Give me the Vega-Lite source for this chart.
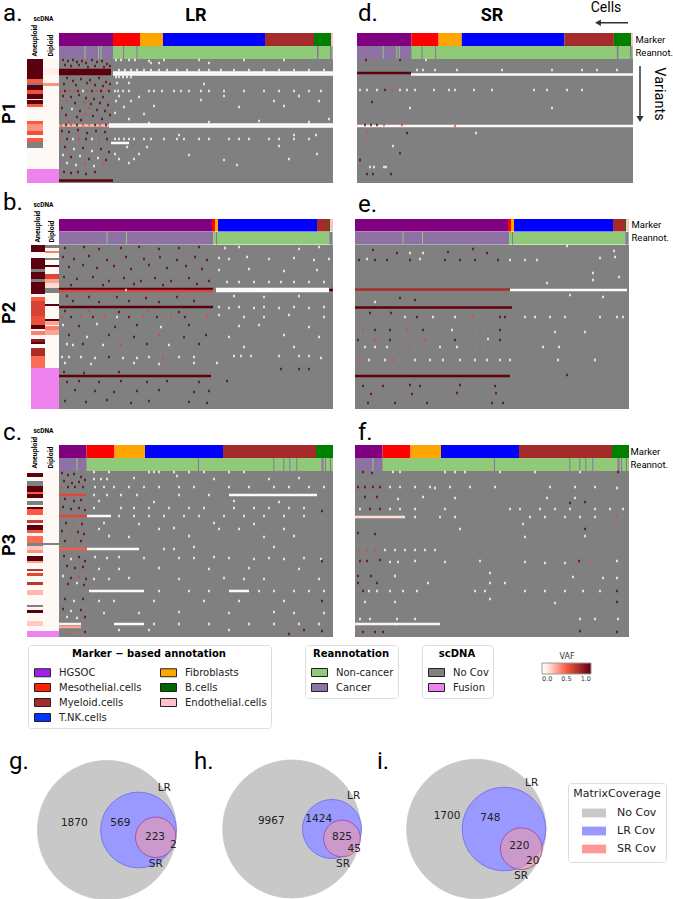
{"$schema":"https://vega.github.io/schema/vega-lite/v6.json","padding":0,"background":"white","config":{"view":{"stroke":null},"font":"Roboto"},
"datasets":{
"ma":[{"s":0,"e":54,"a":"HGSOC","r":"Marker"},{"s":54,"e":81,"a":"Mesothelial.cells","r":"Marker"},{"s":81,"e":104,"a":"Fibroblasts","r":"Marker"},{"s":104,"e":206,"a":"T.NK.cells","r":"Marker"},{"s":206,"e":255,"a":"Myeloid.cells","r":"Marker"},{"s":255,"e":272,"a":"B.cells","r":"Marker"},{"s":272,"e":274,"a":"Endothelial.cells","r":"Marker"}],
"mb":[{"s":0,"e":153,"a":"HGSOC","r":"Marker"},{"s":153,"e":156,"a":"Mesothelial.cells","r":"Marker"},{"s":156,"e":159,"a":"Fibroblasts","r":"Marker"},{"s":159,"e":258,"a":"T.NK.cells","r":"Marker"},{"s":258,"e":270,"a":"Myeloid.cells","r":"Marker"},{"s":270,"e":271,"a":"B.cells","r":"Marker"},{"s":271,"e":274,"a":"Endothelial.cells","r":"Marker"}],
"mc":[{"s":0,"e":27.5,"a":"HGSOC","r":"Marker"},{"s":27.5,"e":55.5,"a":"Mesothelial.cells","r":"Marker"},{"s":55.5,"e":86,"a":"Fibroblasts","r":"Marker"},{"s":86,"e":164,"a":"T.NK.cells","r":"Marker"},{"s":164,"e":257,"a":"Myeloid.cells","r":"Marker"},{"s":257,"e":274,"a":"B.cells","r":"Marker"}],
"ra":[{"s":0,"e":274,"a":"Non-cancer","r":"Reannot."},{"s":0,"e":54,"a":"Cancer","r":"Reannot."},{"s":25.5,"e":26.5,"a":"Non-cancer","r":"Reannot."},{"s":39,"e":40,"a":"Non-cancer","r":"Reannot."},{"s":41.5,"e":42.5,"a":"Non-cancer","r":"Reannot."},{"s":64,"e":65,"a":"Cancer","r":"Reannot."},{"s":77.5,"e":78.5,"a":"Cancer","r":"Reannot."},{"s":258,"e":259.5,"a":"Cancer","r":"Reannot."},{"s":271,"e":272.5,"a":"Cancer","r":"Reannot."}],
"rb":[{"s":0,"e":274,"a":"Non-cancer","r":"Reannot."},{"s":0,"e":154,"a":"Cancer","r":"Reannot."},{"s":47.5,"e":48.5,"a":"Non-cancer","r":"Reannot."},{"s":67,"e":68,"a":"Non-cancer","r":"Reannot."},{"s":157,"e":158,"a":"Cancer","r":"Reannot."},{"s":270.5,"e":273,"a":"Cancer","r":"Reannot."}],
"rc":[{"s":0,"e":274,"a":"Non-cancer","r":"Reannot."},{"s":0,"e":27.5,"a":"Cancer","r":"Reannot."},{"s":17.5,"e":18.5,"a":"Non-cancer","r":"Reannot."},{"s":139,"e":140,"a":"Cancer","r":"Reannot."},{"s":214.3,"e":215.3,"a":"Cancer","r":"Reannot."},{"s":224.3,"e":225.3,"a":"Cancer","r":"Reannot."},{"s":230.3,"e":231.3,"a":"Cancer","r":"Reannot."},{"s":237.3,"e":238.3,"a":"Cancer","r":"Reannot."},{"s":262.5,"e":264.5,"a":"Cancer","r":"Reannot."},{"s":266,"e":267,"a":"Cancer","r":"Reannot."},{"s":271,"e":272,"a":"Cancer","r":"Reannot."}],
"sa":[{"k":"Aneuploid","s":0,"e":20,"f":1},{"k":"Aneuploid","s":20,"e":24,"f":0.5},{"k":"Aneuploid","s":26,"e":31,"f":1},{"k":"Aneuploid","s":31,"e":35,"f":0.55},{"k":"Aneuploid","s":35,"e":40,"f":1},{"k":"Aneuploid","s":40,"e":41,"f":0.1},{"k":"Aneuploid","s":41,"e":45,"f":1},{"k":"Aneuploid","s":45,"e":48,"f":0.5},{"k":"Aneuploid","s":48,"e":62,"f":0.04},{"k":"Aneuploid","s":62,"e":65,"f":0.5},{"k":"Aneuploid","s":65,"e":72,"f":0.35},{"k":"Aneuploid","s":72,"e":76,"f":0.55},{"k":"Aneuploid","s":76,"e":79,"f":0.05},{"k":"Aneuploid","s":79,"e":83,"f":0.5},{"k":"Aneuploid","s":89,"e":110,"f":0.04},{"k":"Diploid","s":0,"e":9,"f":0.04},{"k":"Diploid","s":9,"e":16,"f":0.1},{"k":"Diploid","s":16,"e":24,"f":0.04},{"k":"Diploid","s":24,"e":27,"f":0.35},{"k":"Diploid","s":27,"e":110,"f":0.04}],
"na":[{"k":"Aneuploid","s":24,"e":26,"n":"No Cov"},{"k":"Aneuploid","s":83,"e":89,"n":"No Cov"},{"k":"Aneuploid","s":110,"e":124,"n":"Fusion"},{"k":"Diploid","s":110,"e":124,"n":"Fusion"}],
"sb":[{"k":"Aneuploid","s":0,"e":7,"f":1},{"k":"Aneuploid","s":7,"e":13,"f":0.04},{"k":"Aneuploid","s":13,"e":24,"f":1},{"k":"Aneuploid","s":27,"e":34,"f":1},{"k":"Aneuploid","s":37,"e":49,"f":1},{"k":"Aneuploid","s":49,"e":52,"f":0.04},{"k":"Aneuploid","s":52,"e":56,"f":0.5},{"k":"Aneuploid","s":56,"e":71,"f":0.62},{"k":"Aneuploid","s":71,"e":80,"f":0.55},{"k":"Aneuploid","s":80,"e":84,"f":1},{"k":"Aneuploid","s":84,"e":86,"f":0.04},{"k":"Aneuploid","s":86,"e":90,"f":0.4},{"k":"Aneuploid","s":90,"e":94,"f":0.04},{"k":"Aneuploid","s":94,"e":97,"f":0.85},{"k":"Aneuploid","s":97,"e":99,"f":1},{"k":"Aneuploid","s":99,"e":103,"f":0.04},{"k":"Aneuploid","s":103,"e":111,"f":0.75},{"k":"Aneuploid","s":111,"e":123,"f":0.45},{"k":"Diploid","s":3,"e":6,"f":0.04},{"k":"Diploid","s":6,"e":8,"f":0.4},{"k":"Diploid","s":8,"e":13,"f":0.04},{"k":"Diploid","s":15,"e":20,"f":0.04},{"k":"Diploid","s":20,"e":22,"f":1},{"k":"Diploid","s":22,"e":29,"f":0.04},{"k":"Diploid","s":29,"e":34,"f":0.6},{"k":"Diploid","s":34,"e":38,"f":0.3},{"k":"Diploid","s":38,"e":43,"f":0.15},{"k":"Diploid","s":48,"e":59,"f":0.04},{"k":"Diploid","s":59,"e":61,"f":1},{"k":"Diploid","s":61,"e":74,"f":0.04},{"k":"Diploid","s":74,"e":76,"f":1},{"k":"Diploid","s":76,"e":80,"f":0.3},{"k":"Diploid","s":80,"e":81,"f":0.04},{"k":"Diploid","s":81,"e":85,"f":0.4},{"k":"Diploid","s":85,"e":90,"f":0.3},{"k":"Diploid","s":90,"e":123,"f":0.04}],
"nb":[{"k":"Aneuploid","s":24,"e":27,"n":"No Cov"},{"k":"Aneuploid","s":34,"e":37,"n":"No Cov"},{"k":"Diploid","s":0,"e":3,"n":"No Cov"},{"k":"Diploid","s":13,"e":15,"n":"No Cov"},{"k":"Diploid","s":43,"e":48,"n":"No Cov"},{"k":"Aneuploid","s":123,"e":164,"n":"Fusion"},{"k":"Diploid","s":123,"e":164,"n":"Fusion"}],
"sc":[{"k":"Diploid","s":0,"e":160,"f":0.04},{"k":"Aneuploid","s":0,"e":160,"f":0.04},{"k":"Aneuploid","s":2,"e":6,"f":1},{"k":"Aneuploid","s":15,"e":21,"f":1},{"k":"Aneuploid","s":21,"e":23,"f":0.5},{"k":"Aneuploid","s":23,"e":27,"f":1},{"k":"Aneuploid","s":36,"e":38,"f":1},{"k":"Aneuploid","s":38,"e":44,"f":0.5},{"k":"Aneuploid","s":49,"e":52,"f":0.65},{"k":"Aneuploid","s":54,"e":59,"f":1},{"k":"Aneuploid","s":59,"e":62,"f":0.5},{"k":"Aneuploid","s":65,"e":72,"f":0.45},{"k":"Aneuploid","s":75,"e":79,"f":0.2},{"k":"Aneuploid","s":79,"e":82,"f":0.35},{"k":"Aneuploid","s":85,"e":90,"f":1},{"k":"Aneuploid","s":90,"e":92,"f":0.3},{"k":"Aneuploid","s":98,"e":100,"f":0.7},{"k":"Aneuploid","s":102,"e":105,"f":0.6},{"k":"Aneuploid","s":111,"e":114,"f":0.7},{"k":"Aneuploid","s":119,"e":124,"f":0.25},{"k":"Aneuploid","s":139,"e":142,"f":1},{"k":"Aneuploid","s":150,"e":155,"f":0.2}],
"nc":[{"k":"Aneuploid","s":10,"e":15,"n":"No Cov"},{"k":"Aneuploid","s":30,"e":34,"n":"No Cov"},{"k":"Aneuploid","s":72,"e":75,"n":"No Cov"},{"k":"Diploid","s":72,"e":74,"n":"No Cov"},{"k":"Aneuploid","s":134,"e":136,"n":"No Cov"},{"k":"Aneuploid","s":160,"e":166,"n":"Fusion"},{"k":"Diploid","s":160,"e":166,"n":"Fusion"}],
"ar":[{"s":0,"e":52,"v":11,"f":1},{"s":0,"e":52,"v":13,"f":1},{"s":0,"e":52,"v":15,"f":1},{"s":54,"e":274,"v":13.5,"f":0.02},{"s":54,"e":274,"v":15.5,"f":0.03},{"s":50,"e":274,"v":65.5,"f":0.03},{"s":50,"e":274,"v":67.5,"f":0.03},{"s":0,"e":50,"v":66.5,"f":0.25},{"s":52,"e":70,"v":84,"f":0.03},{"s":0,"e":54,"v":121.5,"f":1}],
"at":[{"c":4,"v":1,"f":1},{"c":9,"v":2,"f":1},{"c":14,"v":1,"f":1},{"c":18,"v":3,"f":1},{"c":23,"v":2,"f":1},{"c":27,"v":4,"f":1},{"c":33,"v":1,"f":1},{"c":38,"v":3,"f":1},{"c":43,"v":2,"f":1},{"c":48,"v":5,"f":1},{"c":6,"v":6,"f":1},{"c":12,"v":7,"f":1},{"c":20,"v":6,"f":1},{"c":29,"v":8,"f":1},{"c":36,"v":7,"f":1},{"c":45,"v":8,"f":1},{"c":51,"v":7,"f":1},{"c":8,"v":19,"f":1},{"c":14,"v":22,"f":1},{"c":22,"v":20,"f":1},{"c":31,"v":21,"f":1},{"c":40,"v":19,"f":1},{"c":47,"v":23,"f":1},{"c":5,"v":25,"f":1},{"c":17,"v":26,"f":1},{"c":28,"v":24,"f":1},{"c":36,"v":26,"f":1},{"c":44,"v":27,"f":1},{"c":51,"v":25,"f":1},{"c":2,"v":32,"f":0.6},{"c":6,"v":32,"f":1},{"c":10,"v":32,"f":0.6},{"c":15,"v":32,"f":0.6},{"c":19,"v":32,"f":1},{"c":24,"v":32,"f":0},{"c":28,"v":32,"f":0.6},{"c":33,"v":32,"f":1},{"c":37,"v":32,"f":0.6},{"c":42,"v":32,"f":1},{"c":46,"v":32,"f":0.5},{"c":50,"v":32,"f":1},{"c":4,"v":37,"f":1},{"c":12,"v":38,"f":1},{"c":20,"v":36,"f":1},{"c":27,"v":39,"f":1},{"c":35,"v":40,"f":1},{"c":44,"v":38,"f":1},{"c":8,"v":42,"f":0.6},{"c":16,"v":44,"f":1},{"c":25,"v":43,"f":0.6},{"c":32,"v":45,"f":1},{"c":41,"v":44,"f":1},{"c":49,"v":46,"f":1},{"c":3,"v":49,"f":1},{"c":13,"v":50,"f":0},{"c":21,"v":52,"f":1},{"c":30,"v":49,"f":0.6},{"c":38,"v":51,"f":1},{"c":46,"v":52,"f":1},{"c":7,"v":56,"f":1},{"c":18,"v":58,"f":1},{"c":26,"v":55,"f":0.6},{"c":34,"v":57,"f":1},{"c":43,"v":60,"f":1},{"c":51,"v":56,"f":1},{"c":10,"v":62,"f":0.6},{"c":22,"v":61,"f":1},{"c":2,"v":66,"f":0.6},{"c":7,"v":66,"f":1},{"c":12,"v":66,"f":0.6},{"c":18,"v":66,"f":1},{"c":24,"v":66,"f":0.6},{"c":30,"v":66,"f":0.5},{"c":36,"v":66,"f":1},{"c":41,"v":66,"f":0.6},{"c":47,"v":66,"f":1},{"c":3,"v":72,"f":1},{"c":10,"v":73,"f":1},{"c":19,"v":71,"f":1},{"c":28,"v":74,"f":1},{"c":37,"v":72,"f":1},{"c":46,"v":73,"f":1},{"c":2,"v":80,"f":0.6},{"c":8,"v":80,"f":1},{"c":14,"v":80,"f":0},{"c":20,"v":80,"f":0.6},{"c":27,"v":80,"f":1},{"c":33,"v":80,"f":0},{"c":40,"v":80,"f":0.6},{"c":48,"v":80,"f":1},{"c":6,"v":88,"f":1},{"c":15,"v":90,"f":0},{"c":24,"v":89,"f":1},{"c":33,"v":92,"f":0},{"c":42,"v":90,"f":1},{"c":50,"v":93,"f":1},{"c":4,"v":96,"f":0},{"c":12,"v":98,"f":1},{"c":21,"v":97,"f":0},{"c":30,"v":100,"f":1},{"c":39,"v":99,"f":0},{"c":47,"v":101,"f":1},{"c":8,"v":104,"f":0},{"c":17,"v":106,"f":0},{"c":26,"v":105,"f":0.6},{"c":35,"v":107,"f":0},{"c":44,"v":106,"f":0.6},{"c":5,"v":113,"f":1},{"c":12,"v":114,"f":1},{"c":19,"v":113,"f":1},{"c":27,"v":115,"f":1},{"c":36,"v":113,"f":1},{"c":57,"v":1,"f":0},{"c":62,"v":1,"f":0},{"c":70,"v":1,"f":0},{"c":76,"v":1,"f":0},{"c":90,"v":2,"f":0},{"c":105,"v":1,"f":0},{"c":140,"v":1,"f":0},{"c":185,"v":1,"f":0},{"c":225,"v":1,"f":0},{"c":92,"v":4,"f":0},{"c":100,"v":4,"f":0},{"c":150,"v":4,"f":0},{"c":60,"v":11,"f":0},{"c":66,"v":11,"f":0},{"c":72,"v":11,"f":0},{"c":78,"v":11,"f":0},{"c":85,"v":11,"f":0},{"c":92,"v":11,"f":0},{"c":100,"v":11,"f":0},{"c":108,"v":11,"f":0},{"c":118,"v":11,"f":0},{"c":128,"v":11,"f":0},{"c":140,"v":11,"f":0},{"c":150,"v":11,"f":0},{"c":162,"v":11,"f":0},{"c":175,"v":11,"f":0},{"c":190,"v":11,"f":0},{"c":205,"v":11,"f":0},{"c":220,"v":11,"f":0},{"c":235,"v":11,"f":0},{"c":250,"v":11,"f":0},{"c":265,"v":11,"f":0},{"c":57,"v":18,"f":0},{"c":60,"v":18,"f":0},{"c":64,"v":18,"f":0},{"c":68,"v":18,"f":0},{"c":72,"v":18,"f":0},{"c":58,"v":24,"f":0},{"c":70,"v":24,"f":0},{"c":145,"v":25,"f":0},{"c":56,"v":32,"f":0},{"c":59,"v":32,"f":0},{"c":64,"v":32,"f":0},{"c":70,"v":32,"f":0},{"c":90,"v":32,"f":0},{"c":95,"v":32,"f":0},{"c":103,"v":32,"f":0},{"c":115,"v":32,"f":0},{"c":122,"v":32,"f":0},{"c":130,"v":32,"f":0},{"c":142,"v":32,"f":0},{"c":150,"v":32,"f":0},{"c":165,"v":32,"f":0},{"c":185,"v":32,"f":0},{"c":205,"v":32,"f":0},{"c":220,"v":32,"f":0},{"c":235,"v":32,"f":0},{"c":250,"v":32,"f":0},{"c":262,"v":32,"f":0},{"c":60,"v":37,"f":0},{"c":80,"v":38,"f":0},{"c":165,"v":37,"f":0},{"c":240,"v":37,"f":0},{"c":57,"v":42,"f":0},{"c":72,"v":42,"f":0},{"c":142,"v":41,"f":0},{"c":215,"v":42,"f":0},{"c":260,"v":42,"f":0},{"c":65,"v":48,"f":0},{"c":95,"v":47,"f":0},{"c":180,"v":48,"f":0},{"c":225,"v":47,"f":0},{"c":56,"v":54,"f":0},{"c":85,"v":55,"f":0},{"c":70,"v":60,"f":0},{"c":200,"v":62,"f":0},{"c":270,"v":60,"f":0},{"c":90,"v":64,"f":0},{"c":150,"v":63,"f":0},{"c":250,"v":63,"f":0},{"c":120,"v":76,"f":0},{"c":235,"v":76,"f":0},{"c":257,"v":76,"f":0},{"c":56,"v":80,"f":0},{"c":60,"v":80,"f":0},{"c":65,"v":80,"f":0},{"c":70,"v":80,"f":0},{"c":75,"v":80,"f":0},{"c":85,"v":80,"f":0},{"c":92,"v":80,"f":0},{"c":105,"v":80,"f":0},{"c":118,"v":80,"f":0},{"c":125,"v":80,"f":0},{"c":140,"v":80,"f":0},{"c":150,"v":80,"f":0},{"c":170,"v":80,"f":0},{"c":180,"v":80,"f":0},{"c":190,"v":80,"f":0},{"c":210,"v":80,"f":0},{"c":220,"v":80,"f":0},{"c":235,"v":80,"f":0},{"c":250,"v":80,"f":0},{"c":68,"v":88,"f":0},{"c":88,"v":88,"f":0},{"c":220,"v":87,"f":0},{"c":56,"v":95,"f":0},{"c":80,"v":95,"f":0},{"c":130,"v":96,"f":0},{"c":258,"v":95,"f":0},{"c":60,"v":100,"f":0},{"c":75,"v":100,"f":0},{"c":165,"v":101,"f":0},{"c":230,"v":100,"f":0},{"c":70,"v":104,"f":0},{"c":178,"v":106,"f":0}],
"dr":[{"s":0,"e":54,"v":14,"f":1},{"s":54,"e":276,"v":15.5,"f":0.03},{"s":0,"e":276,"v":67,"f":0.05}],
"dt":[{"c":9,"v":1,"f":1},{"c":43,"v":1,"f":1},{"c":69,"v":1,"f":0.03},{"c":60,"v":11,"f":0},{"c":66,"v":11,"f":0},{"c":78,"v":11,"f":0},{"c":100,"v":11,"f":0},{"c":145,"v":11,"f":0},{"c":195,"v":11,"f":0},{"c":225,"v":11,"f":0},{"c":240,"v":11,"f":0},{"c":260,"v":11,"f":0},{"c":3,"v":31,"f":0},{"c":10,"v":31,"f":0},{"c":20,"v":31,"f":0},{"c":28,"v":31,"f":1},{"c":35,"v":31,"f":0.6},{"c":43,"v":31,"f":0},{"c":50,"v":31,"f":0},{"c":58,"v":31,"f":0},{"c":77,"v":31,"f":0},{"c":92,"v":31,"f":0},{"c":98,"v":31,"f":0},{"c":117,"v":31,"f":0},{"c":135,"v":31,"f":0},{"c":177,"v":31,"f":0},{"c":190,"v":31,"f":0},{"c":210,"v":31,"f":0},{"c":225,"v":31,"f":0},{"c":15,"v":43,"f":1},{"c":53,"v":49,"f":0},{"c":195,"v":49,"f":0},{"c":8,"v":66,"f":1},{"c":14,"v":66,"f":1},{"c":20,"v":66,"f":1},{"c":27,"v":66,"f":0.6},{"c":45,"v":66,"f":0.6},{"c":98,"v":67,"f":0.6},{"c":10,"v":74,"f":0.6},{"c":50,"v":74,"f":1},{"c":119,"v":74,"f":0},{"c":36,"v":87,"f":0},{"c":43,"v":94,"f":1},{"c":3,"v":101,"f":1},{"c":13,"v":108,"f":0},{"c":17,"v":108,"f":0},{"c":27,"v":108,"f":0},{"c":29,"v":108,"f":0},{"c":10,"v":115,"f":1},{"c":16,"v":115,"f":1},{"c":34,"v":115,"f":1}],
"br":[{"s":0,"e":154,"v":44,"f":1},{"s":0,"e":154,"v":46,"f":0.6},{"s":157,"e":270,"v":44,"f":0.02},{"s":157,"e":270,"v":46,"f":0.02},{"s":270,"e":274,"v":45,"f":1},{"s":0,"e":154,"v":62,"f":1},{"s":0,"e":152,"v":131,"f":1}],
"bt":[{"c":6,"v":3,"f":1},{"c":25,"v":2,"f":1},{"c":40,"v":4,"f":1},{"c":62,"v":3,"f":1},{"c":80,"v":2,"f":1},{"c":100,"v":4,"f":1},{"c":120,"v":3,"f":1},{"c":140,"v":2,"f":1},{"c":4,"v":12,"f":1},{"c":15,"v":14,"f":1},{"c":30,"v":11,"f":1},{"c":48,"v":15,"f":1},{"c":67,"v":12,"f":1},{"c":85,"v":14,"f":1},{"c":101,"v":12,"f":1},{"c":118,"v":15,"f":1},{"c":136,"v":12,"f":1},{"c":148,"v":15,"f":1},{"c":10,"v":22,"f":1},{"c":24,"v":20,"f":1},{"c":38,"v":23,"f":1},{"c":55,"v":21,"f":1},{"c":72,"v":24,"f":1},{"c":90,"v":20,"f":1},{"c":108,"v":23,"f":1},{"c":127,"v":21,"f":1},{"c":143,"v":24,"f":1},{"c":5,"v":32,"f":1},{"c":18,"v":34,"f":1},{"c":34,"v":32,"f":1},{"c":50,"v":36,"f":1},{"c":65,"v":33,"f":1},{"c":82,"v":36,"f":1},{"c":96,"v":33,"f":1},{"c":112,"v":36,"f":1},{"c":130,"v":33,"f":1},{"c":150,"v":36,"f":1},{"c":12,"v":40,"f":1},{"c":44,"v":40,"f":1},{"c":75,"v":39,"f":1},{"c":104,"v":40,"f":1},{"c":138,"v":39,"f":1},{"c":67,"v":45,"f":0.02},{"c":8,"v":51,"f":1},{"c":30,"v":52,"f":1},{"c":58,"v":52,"f":1},{"c":87,"v":53,"f":1},{"c":118,"v":52,"f":1},{"c":14,"v":56,"f":1},{"c":40,"v":57,"f":1},{"c":70,"v":56,"f":1},{"c":100,"v":57,"f":1},{"c":135,"v":56,"f":1},{"c":3,"v":72,"f":0.6},{"c":12,"v":72,"f":1},{"c":22,"v":72,"f":0.6},{"c":34,"v":72,"f":1},{"c":46,"v":72,"f":0.6},{"c":58,"v":72,"f":0},{"c":70,"v":72,"f":1},{"c":84,"v":72,"f":0.6},{"c":98,"v":72,"f":1},{"c":112,"v":72,"f":0.6},{"c":126,"v":72,"f":1},{"c":148,"v":72,"f":0.6},{"c":6,"v":66,"f":1},{"c":30,"v":66,"f":0.6},{"c":60,"v":67,"f":1},{"c":90,"v":66,"f":0.6},{"c":120,"v":67,"f":1},{"c":4,"v":80,"f":0},{"c":20,"v":81,"f":1},{"c":38,"v":79,"f":0},{"c":56,"v":82,"f":1},{"c":78,"v":80,"f":1},{"c":102,"v":82,"f":0},{"c":130,"v":80,"f":1},{"c":10,"v":90,"f":1},{"c":28,"v":92,"f":0},{"c":50,"v":90,"f":1},{"c":75,"v":92,"f":1},{"c":100,"v":90,"f":0.6},{"c":125,"v":92,"f":1},{"c":147,"v":90,"f":1},{"c":8,"v":99,"f":0},{"c":14,"v":100,"f":0},{"c":24,"v":99,"f":1},{"c":44,"v":100,"f":0},{"c":62,"v":100,"f":0.6},{"c":88,"v":99,"f":1},{"c":110,"v":100,"f":0},{"c":140,"v":99,"f":1},{"c":3,"v":112,"f":0},{"c":10,"v":112,"f":0},{"c":22,"v":112,"f":0},{"c":36,"v":113,"f":0},{"c":50,"v":112,"f":1},{"c":64,"v":113,"f":0},{"c":78,"v":113,"f":0},{"c":90,"v":112,"f":0},{"c":104,"v":113,"f":0.6},{"c":120,"v":112,"f":0},{"c":135,"v":112,"f":0},{"c":6,"v":118,"f":0},{"c":32,"v":119,"f":0},{"c":75,"v":118,"f":0},{"c":100,"v":119,"f":0},{"c":135,"v":118,"f":0},{"c":5,"v":127,"f":1},{"c":25,"v":128,"f":1},{"c":60,"v":127,"f":1},{"c":8,"v":137,"f":1},{"c":20,"v":136,"f":1},{"c":40,"v":137,"f":1},{"c":62,"v":136,"f":1},{"c":88,"v":137,"f":1},{"c":108,"v":136,"f":1},{"c":140,"v":137,"f":1},{"c":16,"v":145,"f":1},{"c":36,"v":146,"f":1},{"c":55,"v":147,"f":1},{"c":78,"v":146,"f":1},{"c":100,"v":145,"f":1},{"c":135,"v":147,"f":1},{"c":150,"v":146,"f":1},{"c":6,"v":156,"f":1},{"c":27,"v":157,"f":1},{"c":48,"v":155,"f":1},{"c":72,"v":158,"f":1},{"c":90,"v":156,"f":1},{"c":130,"v":157,"f":1},{"c":148,"v":158,"f":1},{"c":166,"v":3,"f":0},{"c":180,"v":2,"f":0},{"c":240,"v":4,"f":0},{"c":260,"v":2,"f":0},{"c":160,"v":13,"f":0},{"c":170,"v":14,"f":0},{"c":188,"v":12,"f":0},{"c":210,"v":14,"f":0},{"c":235,"v":13,"f":0},{"c":255,"v":15,"f":0},{"c":270,"v":14,"f":0},{"c":160,"v":25,"f":0},{"c":190,"v":24,"f":0},{"c":225,"v":26,"f":0},{"c":258,"v":25,"f":0},{"c":168,"v":37,"f":0},{"c":180,"v":37,"f":0},{"c":195,"v":37,"f":0},{"c":210,"v":37,"f":0},{"c":222,"v":37,"f":0},{"c":235,"v":37,"f":0},{"c":250,"v":37,"f":0},{"c":265,"v":37,"f":0},{"c":175,"v":51,"f":0},{"c":205,"v":52,"f":0},{"c":240,"v":51,"f":0},{"c":160,"v":62,"f":0},{"c":170,"v":63,"f":0},{"c":180,"v":62,"f":0},{"c":195,"v":63,"f":0},{"c":205,"v":62,"f":0},{"c":220,"v":63,"f":0},{"c":235,"v":62,"f":0},{"c":250,"v":63,"f":0},{"c":265,"v":62,"f":0},{"c":160,"v":70,"f":0},{"c":185,"v":72,"f":0},{"c":205,"v":72,"f":0},{"c":230,"v":70,"f":0},{"c":265,"v":72,"f":0},{"c":180,"v":81,"f":0},{"c":200,"v":80,"f":0},{"c":250,"v":82,"f":0},{"c":170,"v":92,"f":0},{"c":225,"v":90,"f":0},{"c":260,"v":92,"f":0},{"c":185,"v":102,"f":0},{"c":235,"v":102,"f":0},{"c":175,"v":111,"f":0},{"c":182,"v":111,"f":0},{"c":192,"v":111,"f":0},{"c":220,"v":111,"f":0},{"c":240,"v":111,"f":0},{"c":250,"v":111,"f":0},{"c":262,"v":113,"f":0},{"c":158,"v":118,"f":0},{"c":222,"v":124,"f":1},{"c":240,"v":124,"f":1},{"c":250,"v":124,"f":1},{"c":168,"v":136,"f":1}],
"er":[{"s":0,"e":155,"v":44.5,"f":0.75},{"s":155,"e":272,"v":45,"f":0.02},{"s":0,"e":157,"v":62.5,"f":1},{"s":0,"e":155,"v":131,"f":1}],
"et":[{"c":18,"v":5,"f":1},{"c":42,"v":8,"f":1},{"c":55,"v":8,"f":0},{"c":68,"v":8,"f":0},{"c":93,"v":7,"f":1},{"c":118,"v":4,"f":1},{"c":132,"v":8,"f":1},{"c":4,"v":15,"f":1},{"c":12,"v":14,"f":0},{"c":20,"v":15,"f":1},{"c":32,"v":15,"f":1},{"c":55,"v":15,"f":1},{"c":65,"v":14,"f":0},{"c":90,"v":15,"f":1},{"c":105,"v":15,"f":1},{"c":120,"v":15,"f":1},{"c":143,"v":15,"f":1},{"c":155,"v":15,"f":0},{"c":170,"v":15,"f":0},{"c":182,"v":15,"f":0},{"c":245,"v":13,"f":0},{"c":260,"v":12,"f":0},{"c":212,"v":1,"f":0},{"c":259,"v":6,"f":0},{"c":238,"v":28,"f":0},{"c":238,"v":35,"f":0},{"c":192,"v":38,"f":0},{"c":264,"v":32,"f":0},{"c":45,"v":53,"f":1},{"c":60,"v":55,"f":1},{"c":20,"v":57,"f":0},{"c":215,"v":50,"f":0},{"c":248,"v":52,"f":0},{"c":15,"v":68,"f":1},{"c":36,"v":68,"f":1},{"c":50,"v":72,"f":0},{"c":62,"v":72,"f":1},{"c":78,"v":72,"f":0},{"c":100,"v":72,"f":0},{"c":118,"v":72,"f":0.6},{"c":145,"v":72,"f":1},{"c":150,"v":72,"f":1},{"c":170,"v":72,"f":0},{"c":180,"v":72,"f":0},{"c":195,"v":72,"f":0},{"c":210,"v":72,"f":0},{"c":245,"v":72,"f":0},{"c":262,"v":72,"f":0},{"c":268,"v":72,"f":0},{"c":8,"v":85,"f":0.6},{"c":20,"v":85,"f":1},{"c":35,"v":85,"f":1},{"c":52,"v":85,"f":0.6},{"c":68,"v":85,"f":1},{"c":97,"v":85,"f":0},{"c":125,"v":85,"f":0.6},{"c":145,"v":85,"f":1},{"c":200,"v":87,"f":0},{"c":230,"v":87,"f":0},{"c":3,"v":95,"f":1},{"c":20,"v":95,"f":0.6},{"c":35,"v":95,"f":1},{"c":70,"v":95,"f":0.6},{"c":100,"v":95,"f":1},{"c":133,"v":94,"f":0},{"c":145,"v":95,"f":1},{"c":10,"v":102,"f":0},{"c":20,"v":102,"f":0},{"c":32,"v":102,"f":0},{"c":55,"v":102,"f":0.6},{"c":85,"v":102,"f":0},{"c":102,"v":102,"f":0},{"c":125,"v":102,"f":0.6},{"c":188,"v":102,"f":0},{"c":204,"v":102,"f":0},{"c":5,"v":115,"f":0.6},{"c":14,"v":115,"f":0},{"c":30,"v":115,"f":0},{"c":38,"v":115,"f":0.6},{"c":60,"v":115,"f":0},{"c":75,"v":115,"f":0},{"c":88,"v":115,"f":0},{"c":105,"v":115,"f":0},{"c":120,"v":115,"f":0},{"c":132,"v":115,"f":0},{"c":145,"v":115,"f":0},{"c":155,"v":115,"f":0},{"c":203,"v":115,"f":0},{"c":240,"v":115,"f":0},{"c":212,"v":130,"f":1},{"c":8,"v":141,"f":1},{"c":28,"v":141,"f":1},{"c":55,"v":140,"f":1},{"c":65,"v":141,"f":1},{"c":105,"v":140,"f":1},{"c":140,"v":141,"f":1},{"c":16,"v":149,"f":1},{"c":57,"v":149,"f":1},{"c":102,"v":148,"f":1},{"c":141,"v":148,"f":1},{"c":13,"v":158,"f":1},{"c":40,"v":158,"f":1},{"c":72,"v":158,"f":1},{"c":137,"v":158,"f":1},{"c":148,"v":158,"f":1}],
"cr":[{"s":0,"e":27,"v":24,"f":0.6},{"s":170,"e":258,"v":24,"f":0.03},{"s":28,"e":52,"v":45,"f":0.03},{"s":0,"e":28,"v":45,"f":0.6},{"s":28,"e":80,"v":78,"f":0.03},{"s":0,"e":28,"v":78,"f":0.5},{"s":30,"e":85,"v":120,"f":0.03},{"s":170,"e":190,"v":120,"f":0.03},{"s":55,"e":85,"v":153,"f":0.03},{"s":0,"e":22,"v":153,"f":0.1},{"s":0,"e":22,"v":156,"f":0.3}],
"ct":[{"c":3,"v":2,"f":1},{"c":9,"v":4,"f":1},{"c":15,"v":3,"f":1},{"c":22,"v":6,"f":1},{"c":5,"v":10,"f":1},{"c":13,"v":12,"f":1},{"c":20,"v":11,"f":1},{"c":26,"v":9,"f":1},{"c":2,"v":16,"f":0.6},{"c":9,"v":16,"f":1},{"c":16,"v":16,"f":1},{"c":24,"v":16,"f":1},{"c":6,"v":28,"f":1},{"c":15,"v":30,"f":1},{"c":22,"v":29,"f":1},{"c":4,"v":36,"f":1},{"c":12,"v":38,"f":1},{"c":20,"v":37,"f":1},{"c":26,"v":39,"f":1},{"c":7,"v":52,"f":1},{"c":15,"v":54,"f":0.6},{"c":23,"v":53,"f":1},{"c":3,"v":60,"f":1},{"c":11,"v":62,"f":0.6},{"c":19,"v":61,"f":1},{"c":25,"v":63,"f":1},{"c":6,"v":70,"f":1},{"c":16,"v":68,"f":0.6},{"c":22,"v":70,"f":1},{"c":5,"v":85,"f":1},{"c":12,"v":88,"f":0},{"c":20,"v":86,"f":1},{"c":26,"v":90,"f":1},{"c":8,"v":95,"f":1},{"c":16,"v":97,"f":1},{"c":24,"v":96,"f":1},{"c":4,"v":105,"f":0},{"c":12,"v":107,"f":1},{"c":20,"v":106,"f":0.6},{"c":27,"v":108,"f":1},{"c":9,"v":113,"f":1},{"c":18,"v":112,"f":0},{"c":25,"v":114,"f":1},{"c":6,"v":128,"f":1},{"c":15,"v":130,"f":0},{"c":24,"v":128,"f":1},{"c":4,"v":138,"f":1},{"c":12,"v":140,"f":0},{"c":22,"v":139,"f":1},{"c":8,"v":146,"f":0},{"c":18,"v":147,"f":0},{"c":26,"v":146,"f":1},{"c":10,"v":160,"f":0.5},{"c":18,"v":162,"f":0.5},{"c":26,"v":161,"f":1},{"c":35,"v":1,"f":0},{"c":50,"v":1,"f":0},{"c":90,"v":1,"f":0},{"c":95,"v":1,"f":0},{"c":100,"v":1,"f":0},{"c":115,"v":1,"f":0},{"c":130,"v":1,"f":0},{"c":145,"v":1,"f":0},{"c":170,"v":1,"f":0},{"c":185,"v":1,"f":0},{"c":35,"v":8,"f":0},{"c":42,"v":8,"f":0},{"c":48,"v":8,"f":0},{"c":75,"v":7,"f":0},{"c":118,"v":5,"f":0},{"c":155,"v":8,"f":0},{"c":210,"v":8,"f":0},{"c":240,"v":7,"f":0},{"c":36,"v":16,"f":0},{"c":45,"v":16,"f":0},{"c":55,"v":16,"f":0},{"c":70,"v":16,"f":0},{"c":85,"v":16,"f":0},{"c":100,"v":16,"f":0},{"c":120,"v":16,"f":0},{"c":135,"v":16,"f":0},{"c":170,"v":16,"f":0},{"c":190,"v":16,"f":0},{"c":215,"v":16,"f":0},{"c":230,"v":16,"f":0},{"c":250,"v":16,"f":0},{"c":265,"v":16,"f":0},{"c":35,"v":24,"f":0},{"c":48,"v":24,"f":0},{"c":62,"v":24,"f":0},{"c":78,"v":24,"f":0},{"c":120,"v":24,"f":0},{"c":150,"v":24,"f":0},{"c":40,"v":30,"f":0},{"c":95,"v":31,"f":0},{"c":175,"v":30,"f":0},{"c":220,"v":31,"f":0},{"c":35,"v":37,"f":0},{"c":62,"v":37,"f":0},{"c":75,"v":37,"f":0},{"c":90,"v":37,"f":0},{"c":110,"v":37,"f":0},{"c":130,"v":37,"f":0},{"c":145,"v":37,"f":0},{"c":175,"v":37,"f":0},{"c":195,"v":37,"f":0},{"c":210,"v":37,"f":0},{"c":230,"v":37,"f":0},{"c":245,"v":37,"f":0},{"c":60,"v":45,"f":0},{"c":75,"v":45,"f":0},{"c":90,"v":45,"f":0},{"c":105,"v":45,"f":0},{"c":125,"v":45,"f":0},{"c":140,"v":45,"f":0},{"c":165,"v":45,"f":0},{"c":185,"v":45,"f":0},{"c":205,"v":45,"f":0},{"c":225,"v":45,"f":0},{"c":245,"v":45,"f":0},{"c":45,"v":52,"f":0},{"c":80,"v":53,"f":0},{"c":155,"v":52,"f":0},{"c":195,"v":53,"f":0},{"c":40,"v":58,"f":0},{"c":100,"v":58,"f":0},{"c":115,"v":57,"f":0},{"c":160,"v":58,"f":0},{"c":180,"v":58,"f":0},{"c":225,"v":58,"f":0},{"c":50,"v":65,"f":0},{"c":70,"v":66,"f":0},{"c":130,"v":65,"f":0},{"c":205,"v":66,"f":0},{"c":235,"v":65,"f":0},{"c":105,"v":78,"f":0},{"c":115,"v":78,"f":0},{"c":135,"v":76,"f":0},{"c":215,"v":76,"f":0},{"c":36,"v":86,"f":0},{"c":48,"v":87,"f":0},{"c":60,"v":86,"f":0},{"c":85,"v":87,"f":0},{"c":120,"v":87,"f":0},{"c":135,"v":87,"f":0},{"c":155,"v":86,"f":0},{"c":170,"v":87,"f":0},{"c":195,"v":88,"f":0},{"c":210,"v":87,"f":0},{"c":225,"v":88,"f":0},{"c":245,"v":87,"f":0},{"c":262,"v":88,"f":0},{"c":40,"v":98,"f":0},{"c":60,"v":98,"f":0},{"c":100,"v":97,"f":0},{"c":150,"v":98,"f":0},{"c":190,"v":97,"f":0},{"c":240,"v":98,"f":0},{"c":35,"v":108,"f":0},{"c":50,"v":108,"f":0},{"c":70,"v":107,"f":0},{"c":120,"v":108,"f":0},{"c":165,"v":107,"f":0},{"c":185,"v":108,"f":0},{"c":205,"v":108,"f":0},{"c":260,"v":108,"f":0},{"c":100,"v":120,"f":0},{"c":130,"v":120,"f":0},{"c":150,"v":120,"f":0},{"c":200,"v":120,"f":0},{"c":215,"v":120,"f":0},{"c":235,"v":120,"f":0},{"c":250,"v":120,"f":0},{"c":265,"v":120,"f":0},{"c":40,"v":130,"f":0},{"c":55,"v":130,"f":0},{"c":95,"v":130,"f":0},{"c":145,"v":130,"f":0},{"c":180,"v":130,"f":0},{"c":225,"v":130,"f":0},{"c":45,"v":142,"f":0},{"c":80,"v":142,"f":0},{"c":120,"v":141,"f":0},{"c":170,"v":142,"f":0},{"c":215,"v":141,"f":0},{"c":235,"v":142,"f":0},{"c":265,"v":142,"f":0},{"c":95,"v":153,"f":0},{"c":120,"v":153,"f":0},{"c":150,"v":153,"f":0},{"c":190,"v":153,"f":0},{"c":215,"v":153,"f":0},{"c":240,"v":153,"f":0},{"c":260,"v":153,"f":0},{"c":60,"v":159,"f":0},{"c":90,"v":159,"f":0},{"c":170,"v":159,"f":0},{"c":245,"v":159,"f":1},{"c":230,"v":163,"f":1},{"c":263,"v":40,"f":1},{"c":263,"v":90,"f":1},{"c":263,"v":130,"f":1},{"c":263,"v":160,"f":1}],
"fr":[{"s":0,"e":50,"v":46,"f":0.15},{"s":0,"e":85,"v":153,"f":0.08}],
"ft":[{"c":8,"v":1,"f":1},{"c":17,"v":2,"f":1},{"c":38,"v":1,"f":0},{"c":45,"v":1,"f":0},{"c":90,"v":1,"f":0},{"c":100,"v":1,"f":0},{"c":110,"v":1,"f":0},{"c":145,"v":1,"f":0},{"c":180,"v":1,"f":0},{"c":225,"v":1,"f":0},{"c":263,"v":1,"f":1},{"c":3,"v":16,"f":1},{"c":10,"v":16,"f":1},{"c":18,"v":16,"f":1},{"c":25,"v":16,"f":1},{"c":35,"v":16,"f":0},{"c":45,"v":16,"f":0},{"c":60,"v":16,"f":0},{"c":75,"v":16,"f":0},{"c":80,"v":17,"f":0},{"c":95,"v":16,"f":0},{"c":115,"v":16,"f":0},{"c":140,"v":16,"f":0},{"c":195,"v":16,"f":0},{"c":220,"v":16,"f":0},{"c":240,"v":16,"f":0},{"c":262,"v":17,"f":0},{"c":10,"v":26,"f":1},{"c":22,"v":26,"f":1},{"c":43,"v":28,"f":0},{"c":68,"v":26,"f":0},{"c":100,"v":27,"f":0},{"c":192,"v":27,"f":0},{"c":220,"v":27,"f":0},{"c":215,"v":32,"f":1},{"c":230,"v":31,"f":1},{"c":5,"v":38,"f":0},{"c":15,"v":38,"f":1},{"c":25,"v":38,"f":1},{"c":35,"v":38,"f":0},{"c":45,"v":38,"f":0},{"c":60,"v":38,"f":0},{"c":90,"v":38,"f":0},{"c":155,"v":38,"f":0},{"c":165,"v":38,"f":0},{"c":185,"v":38,"f":0},{"c":200,"v":38,"f":0},{"c":215,"v":38,"f":0},{"c":240,"v":38,"f":0},{"c":255,"v":38,"f":0},{"c":268,"v":38,"f":0},{"c":60,"v":46,"f":0},{"c":85,"v":46,"f":0},{"c":100,"v":46,"f":0},{"c":175,"v":46,"f":0},{"c":190,"v":46,"f":0},{"c":210,"v":46,"f":0},{"c":225,"v":46,"f":0},{"c":240,"v":46,"f":0},{"c":262,"v":46,"f":0.6},{"c":168,"v":53,"f":0},{"c":105,"v":58,"f":0},{"c":230,"v":58,"f":1},{"c":3,"v":62,"f":1},{"c":20,"v":63,"f":1},{"c":170,"v":66,"f":0},{"c":230,"v":65,"f":0},{"c":4,"v":79,"f":0.6},{"c":12,"v":79,"f":0.6},{"c":20,"v":79,"f":0.6},{"c":30,"v":79,"f":0},{"c":40,"v":79,"f":0},{"c":50,"v":79,"f":0},{"c":60,"v":79,"f":0},{"c":70,"v":79,"f":0},{"c":80,"v":79,"f":0},{"c":5,"v":90,"f":1},{"c":12,"v":90,"f":1},{"c":25,"v":89,"f":1},{"c":35,"v":91,"f":0},{"c":43,"v":91,"f":0},{"c":60,"v":90,"f":0},{"c":90,"v":91,"f":0},{"c":125,"v":90,"f":0},{"c":170,"v":91,"f":0},{"c":190,"v":92,"f":0},{"c":210,"v":92,"f":0},{"c":224,"v":90,"f":1},{"c":235,"v":91,"f":0.5},{"c":262,"v":90,"f":0},{"c":3,"v":105,"f":1},{"c":16,"v":105,"f":1},{"c":40,"v":105,"f":0},{"c":135,"v":102,"f":0},{"c":218,"v":106,"f":0},{"c":248,"v":107,"f":0},{"c":262,"v":107,"f":0},{"c":3,"v":112,"f":1},{"c":22,"v":112,"f":1},{"c":73,"v":112,"f":0},{"c":135,"v":112,"f":0},{"c":150,"v":112,"f":0},{"c":8,"v":120,"f":1},{"c":14,"v":120,"f":0},{"c":22,"v":120,"f":0},{"c":35,"v":120,"f":0},{"c":48,"v":120,"f":0},{"c":62,"v":120,"f":0},{"c":120,"v":120,"f":0},{"c":130,"v":120,"f":0},{"c":170,"v":120,"f":0},{"c":190,"v":120,"f":0},{"c":210,"v":120,"f":0},{"c":228,"v":120,"f":0},{"c":245,"v":120,"f":0},{"c":262,"v":120,"f":1},{"c":10,"v":131,"f":0},{"c":40,"v":131,"f":0},{"c":135,"v":128,"f":0},{"c":200,"v":132,"f":0},{"c":262,"v":131,"f":1},{"c":5,"v":148,"f":0},{"c":15,"v":148,"f":0},{"c":42,"v":148,"f":0},{"c":60,"v":148,"f":0},{"c":225,"v":148,"f":0},{"c":240,"v":148,"f":0},{"c":263,"v":148,"f":0},{"c":40,"v":153,"f":0.02},{"c":240,"v":153,"f":0.6},{"c":8,"v":161,"f":1},{"c":20,"v":161,"f":1},{"c":28,"v":161,"f":1},{"c":225,"v":160,"f":1},{"c":262,"v":161,"f":1}],
"vg":[{"set":"No Cov","x":0,"y":0,"n":2664},{"set":"LR Cov","x":31.5,"y":0,"n":792},{"set":"SR Cov","x":48.7,"y":7.3,"n":225}],
"vh":[{"set":"No Cov","x":0,"y":0,"n":12261},{"set":"LR Cov","x":40.3,"y":0,"n":2249},{"set":"SR Cov","x":50.3,"y":9.5,"n":870}],
"vi":[{"set":"No Cov","x":0,"y":0,"n":2688},{"set":"LR Cov","x":27.7,"y":0,"n":968},{"set":"SR Cov","x":45,"y":19.7,"n":240}],
"tg":[{"t":"1870","x":-32.7,"y":-7.3},{"t":"569","x":13.3,"y":-6.7},{"t":"223","x":48,"y":6.7},{"t":"2","x":66.3,"y":14.7},{"t":"LR","x":57.3,"y":-42},{"t":"SR","x":48.7,"y":34}],
"th":[{"t":"9967","x":-20.4,"y":-8},{"t":"1424","x":27,"y":-10},{"t":"825","x":50.3,"y":8},{"t":"45","x":62.6,"y":20.3},{"t":"LR","x":62,"y":-33.3},{"t":"SR","x":51.3,"y":35}],
"ti":[{"t":"1700","x":-29.3,"y":-13},{"t":"748","x":14,"y":-10.7},{"t":"220","x":43,"y":17},{"t":"20","x":56.4,"y":32},{"t":"LR","x":55.4,"y":-45.7},{"t":"SR","x":44.7,"y":46.7}]
},
"concat":[
{"width":26,"height":33,"data":{"values":[{"t":"a.","x":8,"y":64}]},"mark":{"type":"text","align":"left","baseline":"alphabetic","fontSize":24},"encoding":{"x":{"field":"x","type":"quantitative","scale":{"domain":[0,100],"nice":false},"axis":null},"y":{"field":"y","type":"quantitative","scale":{"domain":[100,0],"nice":false},"axis":null},"text":{"field":"t"}}},
{"width":32,"height":1,"data":{"values":[]},"mark":"rule","encoding":{}},
{"width":274,"height":33,"data":{"values":[{"t":"LR","x":50,"y":47}]},"mark":{"type":"text","fontSize":18,"fontWeight":"bold"},"encoding":{"x":{"field":"x","type":"quantitative","scale":{"domain":[0,100],"nice":false},"axis":null},"y":{"field":"y","type":"quantitative","scale":{"domain":[100,0],"nice":false},"axis":null},"text":{"field":"t"}}},
{"width":22,"height":1,"data":{"values":[]},"mark":"rule","encoding":{}},
{"width":278,"height":33,"layer":[
{"data":{"values":[{"t":"d.","x":1.1,"y":64}]},"mark":{"type":"text","align":"left","baseline":"alphabetic","fontSize":24},"encoding":{"x":{"field":"x","type":"quantitative","scale":{"domain":[0,100],"nice":false},"axis":null},"y":{"field":"y","type":"quantitative","scale":{"domain":[100,0],"nice":false},"axis":null},"text":{"field":"t"}}},
{"data":{"values":[{"t":"SR","x":49.3,"y":47}]},"mark":{"type":"text","fontSize":18,"fontWeight":"bold"},"encoding":{"x":{"field":"x","type":"quantitative"},"y":{"field":"y","type":"quantitative"},"text":{"field":"t"}}},
{"data":{"values":[{"t":"Cells","x":90.3,"y":24}]},"mark":{"type":"text","fontSize":14},"encoding":{"x":{"field":"x","type":"quantitative"},"y":{"field":"y","type":"quantitative"},"text":{"field":"t"}}},
{"data":{"values":[{"x":98.2,"x2":88,"y":69}]},"mark":{"type":"rule","color":"#333","strokeWidth":1.5},"encoding":{"x":{"field":"x","type":"quantitative"},"x2":{"field":"x2"},"y":{"field":"y","type":"quantitative"}}},
{"data":{"values":[{"x":87.4,"y":69}]},"mark":{"type":"point","shape":"triangle-left","filled":true,"size":45,"color":"#333","opacity":1},"encoding":{"x":{"field":"x","type":"quantitative"},"y":{"field":"y","type":"quantitative"}}}
]},

{"width":26,"height":13,"data":{"values":[]},"mark":"rule","encoding":{}},{"width":32,"height":1,"data":{"values":[]},"mark":"rule","encoding":{}},
{"width":274,"height":13,"data":{"name":"ma"},"mark":"rect","encoding":{"x":{"field":"s","type":"quantitative","scale":{"domain":[0,274],"nice":false},"axis":null},"x2":{"field":"e"},"color":{"field":"a","type":"nominal","legend":null,"scale":{"domain":["HGSOC","Mesothelial.cells","Fibroblasts","T.NK.cells","Myeloid.cells","B.cells","Endothelial.cells"],"range":["#800080","#FF0000","#FFA500","#0000FF","#A52A2A","#008000","#FFC0CB"]}}}},
{"width":22,"height":1,"data":{"values":[]},"mark":"rule","encoding":{}},
{"width":278,"height":13,"data":{"name":"ma"},"mark":"rect","encoding":{"x":{"field":"s","type":"quantitative","scale":{"domain":[-1.985,274],"nice":false},"axis":null},"x2":{"field":"e"},"y":{"field":"r","type":"nominal","scale":{"paddingInner":0,"paddingOuter":0},"axis":{"orient":"right","title":null,"ticks":false,"domain":false,"labelFontSize":9.5,"labelPadding":2}},"color":{"field":"a","type":"nominal","legend":null,"scale":{"domain":["HGSOC","Mesothelial.cells","Fibroblasts","T.NK.cells","Myeloid.cells","B.cells","Endothelial.cells"],"range":["#800080","#FF0000","#FFA500","#0000FF","#A52A2A","#008000","#FFC0CB"]}}}},

{"width":26,"height":13,"data":{"values":[]},"mark":"rule","encoding":{}},{"width":32,"height":1,"data":{"values":[]},"mark":"rule","encoding":{}},
{"width":274,"height":13,"data":{"name":"ra"},"mark":"rect","encoding":{"x":{"field":"s","type":"quantitative","scale":{"domain":[0,274],"nice":false},"axis":null},"x2":{"field":"e"},"color":{"field":"a","type":"nominal","legend":null,"scale":{"domain":["Non-cancer","Cancer"],"range":["#90C978","#8E72A3"]}}}},
{"width":22,"height":1,"data":{"values":[]},"mark":"rule","encoding":{}},
{"width":278,"height":13,"data":{"name":"ra"},"mark":"rect","encoding":{"x":{"field":"s","type":"quantitative","scale":{"domain":[-1.985,274],"nice":false},"axis":null},"x2":{"field":"e"},"y":{"field":"r","type":"nominal","scale":{"paddingInner":0,"paddingOuter":0},"axis":{"orient":"right","title":null,"ticks":false,"domain":false,"labelFontSize":9.5,"labelPadding":2}},"color":{"field":"a","type":"nominal","legend":null,"scale":{"domain":["Non-cancer","Cancer"],"range":["#90C978","#8E72A3"]}}}},

{"width":26,"height":124,"data":{"values":[{"t":"P1"}]},"mark":{"type":"text","angle":270,"fontSize":18,"fontWeight":"bold","dx":8,"dy":-4},"encoding":{"text":{"field":"t"}}},
{"width":32,"height":124,"view":{"fill":"#808080"},"resolve":{"scale":{"color":"independent"}},"encoding":{"x":{"field":"k","type":"nominal","scale":{"domain":["Aneuploid","Diploid"],"paddingInner":0,"paddingOuter":0},"axis":{"orient":"top","title":"scDNA","titleFontSize":6.5,"titleFontWeight":"bold","titlePadding":3,"labelAngle":-90,"labelFontSize":7,"labelFontWeight":"bold","labelPadding":3,"ticks":false,"domain":false}},"y":{"field":"s","type":"quantitative","scale":{"domain":[124,0],"nice":false},"axis":null},"y2":{"field":"e"}},"layer":[{"data":{"name":"sa"},"mark":"rect","encoding":{"color":{"field":"f","type":"quantitative","legend":null,"scale":{"interpolate":"rgb","domain":[0,0.1,0.5,1],"range":["#FFFFFF","#FFEFE8","#FB5A40","#5C0010"]}}}},{"data":{"name":"na"},"mark":"rect","encoding":{"color":{"field":"n","type":"nominal","legend":null,"scale":{"domain":["No Cov","Fusion"],"range":["#808080","#EE82EE"]}}}}]},
{"width":274,"height":124,"view":{"fill":"#808080"},"encoding":{"y":{"field":"v","type":"quantitative","scale":{"domain":[124,0],"nice":false},"axis":null},"color":{"field":"f","type":"quantitative","legend":null,"scale":{"interpolate":"rgb","domain":[0,0.1,0.5,1],"range":["#FFFFFF","#FFEFE8","#FB5A40","#5C0010"]}}},"layer":[{"data":{"name":"ar"},"mark":{"type":"rect","height":2.5},"encoding":{"x":{"field":"s","type":"quantitative","scale":{"domain":[0,274],"nice":false},"axis":null},"x2":{"field":"e"}}},{"data":{"name":"at"},"mark":{"type":"rect","width":1.5,"height":2.6},"encoding":{"x":{"field":"c","type":"quantitative","scale":{"domain":[0,274],"nice":false},"axis":null}}}]},
{"width":22,"height":1,"data":{"values":[]},"mark":"rule","encoding":{}},
{"width":278,"height":124,"layer":[{"data":{"values":[{"s":0,"e":276}]},"mark":{"type":"rect","color":"#808080"},"encoding":{"x":{"field":"s","type":"quantitative","scale":{"domain":[-2,276],"nice":false},"axis":null},"x2":{"field":"e"}}},{"data":{"name":"dr"},"mark":{"type":"rect","height":2.5},"encoding":{"y":{"field":"v","type":"quantitative","scale":{"domain":[124,0],"nice":false},"axis":null},"color":{"field":"f","type":"quantitative","legend":null,"scale":{"interpolate":"rgb","domain":[0,0.1,0.5,1],"range":["#FFFFFF","#FFEFE8","#FB5A40","#5C0010"]}},"x":{"field":"s","type":"quantitative"},"x2":{"field":"e"}}},{"data":{"name":"dt"},"mark":{"type":"rect","width":1.5,"height":2.6},"encoding":{"y":{"field":"v","type":"quantitative"},"color":{"field":"f","type":"quantitative"},"x":{"field":"c","type":"quantitative"}}},{"data":{"values":[{"x":283,"v":7,"v2":58}]},"mark":{"type":"rule","color":"#333","strokeWidth":1.5},"encoding":{"x":{"field":"x","type":"quantitative"},"y":{"field":"v","type":"quantitative"},"y2":{"field":"v2"}}},{"data":{"values":[{"x":283,"v":60}]},"mark":{"type":"point","shape":"triangle-down","filled":true,"size":50,"color":"#333","opacity":1},"encoding":{"x":{"field":"x","type":"quantitative"},"y":{"field":"v","type":"quantitative"}}},{"data":{"values":[{"x":302,"v":35,"t":"Variants"}]},"mark":{"type":"text","angle":90,"fontSize":14.5},"encoding":{"x":{"field":"x","type":"quantitative"},"y":{"field":"v","type":"quantitative"},"text":{"field":"t"}}}]},

{"width":26,"height":36,"data":{"values":[{"t":"b.","x":8,"y":75}]},"mark":{"type":"text","align":"left","baseline":"alphabetic","fontSize":24},"encoding":{"x":{"field":"x","type":"quantitative","scale":{"domain":[0,100],"nice":false},"axis":null},"y":{"field":"y","type":"quantitative","scale":{"domain":[100,0],"nice":false},"axis":null},"text":{"field":"t"}}},
{"width":32,"height":1,"data":{"values":[]},"mark":"rule","encoding":{}},{"width":274,"height":1,"data":{"values":[]},"mark":"rule","encoding":{}},{"width":22,"height":1,"data":{"values":[]},"mark":"rule","encoding":{}},
{"width":274,"height":36,"data":{"values":[{"t":"e.","x":1.1,"y":80}]},"mark":{"type":"text","align":"left","baseline":"alphabetic","fontSize":24},"encoding":{"x":{"field":"x","type":"quantitative","scale":{"domain":[0,100],"nice":false},"axis":null},"y":{"field":"y","type":"quantitative","scale":{"domain":[100,0],"nice":false},"axis":null},"text":{"field":"t"}}},

{"width":26,"height":12.5,"data":{"values":[]},"mark":"rule","encoding":{}},{"width":32,"height":1,"data":{"values":[]},"mark":"rule","encoding":{}},
{"width":274,"height":12.5,"data":{"name":"mb"},"mark":"rect","encoding":{"x":{"field":"s","type":"quantitative","scale":{"domain":[0,274],"nice":false},"axis":null},"x2":{"field":"e"},"color":{"field":"a","type":"nominal","legend":null,"scale":{"domain":["HGSOC","Mesothelial.cells","Fibroblasts","T.NK.cells","Myeloid.cells","B.cells","Endothelial.cells"],"range":["#800080","#FF0000","#FFA500","#0000FF","#A52A2A","#008000","#FFC0CB"]}}}},
{"width":22,"height":1,"data":{"values":[]},"mark":"rule","encoding":{}},
{"width":274,"height":12.5,"data":{"name":"mb"},"mark":"rect","encoding":{"x":{"field":"s","type":"quantitative","scale":{"domain":[0,274],"nice":false},"axis":null},"x2":{"field":"e"},"y":{"field":"r","type":"nominal","scale":{"paddingInner":0,"paddingOuter":0},"axis":{"orient":"right","title":null,"ticks":false,"domain":false,"labelFontSize":9.5,"labelPadding":2}},"color":{"field":"a","type":"nominal","legend":null,"scale":{"domain":["HGSOC","Mesothelial.cells","Fibroblasts","T.NK.cells","Myeloid.cells","B.cells","Endothelial.cells"],"range":["#800080","#FF0000","#FFA500","#0000FF","#A52A2A","#008000","#FFC0CB"]}}}},

{"width":26,"height":12.5,"data":{"values":[]},"mark":"rule","encoding":{}},{"width":32,"height":1,"data":{"values":[]},"mark":"rule","encoding":{}},
{"width":274,"height":12.5,"data":{"name":"rb"},"mark":"rect","encoding":{"x":{"field":"s","type":"quantitative","scale":{"domain":[0,274],"nice":false},"axis":null},"x2":{"field":"e"},"color":{"field":"a","type":"nominal","legend":null,"scale":{"domain":["Non-cancer","Cancer"],"range":["#90C978","#8E72A3"]}}}},
{"width":22,"height":1,"data":{"values":[]},"mark":"rule","encoding":{}},
{"width":274,"height":12.5,"data":{"name":"rb"},"mark":"rect","encoding":{"x":{"field":"s","type":"quantitative","scale":{"domain":[0,274],"nice":false},"axis":null},"x2":{"field":"e"},"y":{"field":"r","type":"nominal","scale":{"paddingInner":0,"paddingOuter":0},"axis":{"orient":"right","title":null,"ticks":false,"domain":false,"labelFontSize":9.5,"labelPadding":2}},"color":{"field":"a","type":"nominal","legend":null,"scale":{"domain":["Non-cancer","Cancer"],"range":["#90C978","#8E72A3"]}}}},

{"width":26,"height":164,"data":{"values":[{"t":"P2"}]},"mark":{"type":"text","angle":270,"fontSize":18,"fontWeight":"bold","dx":14,"dy":-4},"encoding":{"text":{"field":"t"}}},
{"width":32,"height":164,"resolve":{"scale":{"color":"independent"}},"encoding":{"x":{"field":"k","type":"nominal","scale":{"domain":["Aneuploid","Diploid"],"paddingInner":0,"paddingOuter":0.143,"align":1},"axis":{"orient":"top","title":"scDNA","titleFontSize":6.5,"titleFontWeight":"bold","titlePadding":3,"labelAngle":-90,"labelFontSize":7,"labelFontWeight":"bold","labelPadding":3,"ticks":false,"domain":false}},"y":{"field":"s","type":"quantitative","scale":{"domain":[164,0],"nice":false},"axis":null},"y2":{"field":"e"}},"layer":[{"data":{"name":"sb"},"mark":"rect","encoding":{"color":{"field":"f","type":"quantitative","legend":null,"scale":{"interpolate":"rgb","domain":[0,0.1,0.5,1],"range":["#FFFFFF","#FFEFE8","#FB5A40","#5C0010"]}}}},{"data":{"name":"nb"},"mark":"rect","encoding":{"color":{"field":"n","type":"nominal","legend":null,"scale":{"domain":["No Cov","Fusion"],"range":["#808080","#EE82EE"]}}}}]},
{"width":274,"height":164,"view":{"fill":"#808080"},"encoding":{"y":{"field":"v","type":"quantitative","scale":{"domain":[164,0],"nice":false},"axis":null},"color":{"field":"f","type":"quantitative","legend":null,"scale":{"interpolate":"rgb","domain":[0,0.1,0.5,1],"range":["#FFFFFF","#FFEFE8","#FB5A40","#5C0010"]}}},"layer":[{"data":{"name":"br"},"mark":{"type":"rect","height":2.5},"encoding":{"x":{"field":"s","type":"quantitative","scale":{"domain":[0,274],"nice":false},"axis":null},"x2":{"field":"e"}}},{"data":{"name":"bt"},"mark":{"type":"rect","width":1.5,"height":2.6},"encoding":{"x":{"field":"c","type":"quantitative","scale":{"domain":[0,274],"nice":false},"axis":null}}}]},
{"width":22,"height":1,"data":{"values":[]},"mark":"rule","encoding":{}},
{"width":274,"height":164,"view":{"fill":"#808080"},"encoding":{"y":{"field":"v","type":"quantitative","scale":{"domain":[164,0],"nice":false},"axis":null},"color":{"field":"f","type":"quantitative","legend":null,"scale":{"interpolate":"rgb","domain":[0,0.1,0.5,1],"range":["#FFFFFF","#FFEFE8","#FB5A40","#5C0010"]}}},"layer":[{"data":{"name":"er"},"mark":{"type":"rect","height":2.5},"encoding":{"x":{"field":"s","type":"quantitative","scale":{"domain":[0,274],"nice":false},"axis":null},"x2":{"field":"e"}}},{"data":{"name":"et"},"mark":{"type":"rect","width":1.5,"height":2.6},"encoding":{"x":{"field":"c","type":"quantitative","scale":{"domain":[0,274],"nice":false},"axis":null}}}]},

{"width":26,"height":36,"data":{"values":[{"t":"c.","x":8,"y":86}]},"mark":{"type":"text","align":"left","baseline":"alphabetic","fontSize":24},"encoding":{"x":{"field":"x","type":"quantitative","scale":{"domain":[0,100],"nice":false},"axis":null},"y":{"field":"y","type":"quantitative","scale":{"domain":[100,0],"nice":false},"axis":null},"text":{"field":"t"}}},
{"width":32,"height":1,"data":{"values":[]},"mark":"rule","encoding":{}},{"width":274,"height":1,"data":{"values":[]},"mark":"rule","encoding":{}},{"width":22,"height":1,"data":{"values":[]},"mark":"rule","encoding":{}},
{"width":274,"height":36,"data":{"values":[{"t":"f.","x":1.1,"y":86}]},"mark":{"type":"text","align":"left","baseline":"alphabetic","fontSize":24},"encoding":{"x":{"field":"x","type":"quantitative","scale":{"domain":[0,100],"nice":false},"axis":null},"y":{"field":"y","type":"quantitative","scale":{"domain":[100,0],"nice":false},"axis":null},"text":{"field":"t"}}},

{"width":26,"height":13,"data":{"values":[]},"mark":"rule","encoding":{}},{"width":32,"height":1,"data":{"values":[]},"mark":"rule","encoding":{}},
{"width":274,"height":13,"data":{"name":"mc"},"mark":"rect","encoding":{"x":{"field":"s","type":"quantitative","scale":{"domain":[0,274],"nice":false},"axis":null},"x2":{"field":"e"},"color":{"field":"a","type":"nominal","legend":null,"scale":{"domain":["HGSOC","Mesothelial.cells","Fibroblasts","T.NK.cells","Myeloid.cells","B.cells","Endothelial.cells"],"range":["#800080","#FF0000","#FFA500","#0000FF","#A52A2A","#008000","#FFC0CB"]}}}},
{"width":22,"height":1,"data":{"values":[]},"mark":"rule","encoding":{}},
{"width":274,"height":13,"data":{"name":"mc"},"mark":"rect","encoding":{"x":{"field":"s","type":"quantitative","scale":{"domain":[0,274],"nice":false},"axis":null},"x2":{"field":"e"},"y":{"field":"r","type":"nominal","scale":{"paddingInner":0,"paddingOuter":0},"axis":{"orient":"right","title":null,"ticks":false,"domain":false,"labelFontSize":9.5,"labelPadding":1}},"color":{"field":"a","type":"nominal","legend":null,"scale":{"domain":["HGSOC","Mesothelial.cells","Fibroblasts","T.NK.cells","Myeloid.cells","B.cells","Endothelial.cells"],"range":["#800080","#FF0000","#FFA500","#0000FF","#A52A2A","#008000","#FFC0CB"]}}}},

{"width":26,"height":13,"data":{"values":[]},"mark":"rule","encoding":{}},{"width":32,"height":1,"data":{"values":[]},"mark":"rule","encoding":{}},
{"width":274,"height":13,"data":{"name":"rc"},"mark":"rect","encoding":{"x":{"field":"s","type":"quantitative","scale":{"domain":[0,274],"nice":false},"axis":null},"x2":{"field":"e"},"color":{"field":"a","type":"nominal","legend":null,"scale":{"domain":["Non-cancer","Cancer"],"range":["#90C978","#8E72A3"]}}}},
{"width":22,"height":1,"data":{"values":[]},"mark":"rule","encoding":{}},
{"width":274,"height":13,"data":{"name":"rc"},"mark":"rect","encoding":{"x":{"field":"s","type":"quantitative","scale":{"domain":[0,274],"nice":false},"axis":null},"x2":{"field":"e"},"y":{"field":"r","type":"nominal","scale":{"paddingInner":0,"paddingOuter":0},"axis":{"orient":"right","title":null,"ticks":false,"domain":false,"labelFontSize":9.5,"labelPadding":1}},"color":{"field":"a","type":"nominal","legend":null,"scale":{"domain":["Non-cancer","Cancer"],"range":["#90C978","#8E72A3"]}}}},

{"width":26,"height":166,"data":{"values":[{"t":"P3"}]},"mark":{"type":"text","angle":270,"fontSize":18,"fontWeight":"bold","dx":9,"dy":-4},"encoding":{"text":{"field":"t"}}},
{"width":32,"height":166,"view":{"fill":"#808080"},"resolve":{"scale":{"color":"independent"}},"encoding":{"x":{"field":"k","type":"nominal","scale":{"domain":["Aneuploid","Diploid"],"paddingInner":0,"paddingOuter":0},"axis":{"orient":"top","title":"scDNA","titleFontSize":6.5,"titleFontWeight":"bold","titlePadding":3,"labelAngle":-90,"labelFontSize":7,"labelFontWeight":"bold","labelPadding":3,"ticks":false,"domain":false}},"y":{"field":"s","type":"quantitative","scale":{"domain":[166,0],"nice":false},"axis":null},"y2":{"field":"e"}},"layer":[{"data":{"name":"sc"},"mark":"rect","encoding":{"color":{"field":"f","type":"quantitative","legend":null,"scale":{"interpolate":"rgb","domain":[0,0.1,0.5,1],"range":["#FFFFFF","#FFEFE8","#FB5A40","#5C0010"]}}}},{"data":{"name":"nc"},"mark":"rect","encoding":{"color":{"field":"n","type":"nominal","legend":null,"scale":{"domain":["No Cov","Fusion"],"range":["#808080","#EE82EE"]}}}}]},
{"width":274,"height":166,"view":{"fill":"#808080"},"encoding":{"y":{"field":"v","type":"quantitative","scale":{"domain":[166,0],"nice":false},"axis":null},"color":{"field":"f","type":"quantitative","legend":null,"scale":{"interpolate":"rgb","domain":[0,0.1,0.5,1],"range":["#FFFFFF","#FFEFE8","#FB5A40","#5C0010"]}}},"layer":[{"data":{"name":"cr"},"mark":{"type":"rect","height":2.5},"encoding":{"x":{"field":"s","type":"quantitative","scale":{"domain":[0,274],"nice":false},"axis":null},"x2":{"field":"e"}}},{"data":{"name":"ct"},"mark":{"type":"rect","width":1.5,"height":2.6},"encoding":{"x":{"field":"c","type":"quantitative","scale":{"domain":[0,274],"nice":false},"axis":null}}}]},
{"width":22,"height":1,"data":{"values":[]},"mark":"rule","encoding":{}},
{"width":274,"height":166,"view":{"fill":"#808080"},"encoding":{"y":{"field":"v","type":"quantitative","scale":{"domain":[166,0],"nice":false},"axis":null},"color":{"field":"f","type":"quantitative","legend":null,"scale":{"interpolate":"rgb","domain":[0,0.1,0.5,1],"range":["#FFFFFF","#FFEFE8","#FB5A40","#5C0010"]}}},"layer":[{"data":{"name":"fr"},"mark":{"type":"rect","height":2.5},"encoding":{"x":{"field":"s","type":"quantitative","scale":{"domain":[0,274],"nice":false},"axis":null},"x2":{"field":"e"}}},{"data":{"name":"ft"},"mark":{"type":"rect","width":1.5,"height":2.6},"encoding":{"x":{"field":"c","type":"quantitative","scale":{"domain":[0,274],"nice":false},"axis":null}}}]},

{"width":26,"height":94,"resolve":{"scale":{"color":"independent"},"legend":{"color":"independent"}},"layer":[
{"data":{"values":[{"k":"HGSOC"},{"k":"Mesothelial.cells"},{"k":"Myeloid.cells"},{"k":"T.NK.cells"},{"k":"Fibroblasts"},{"k":"B.cells"},{"k":"Endothelial.cells"}]},"mark":{"type":"square","opacity":0},"encoding":{"color":{"field":"k","type":"nominal","scale":{"domain":["HGSOC","Mesothelial.cells","Myeloid.cells","T.NK.cells","Fibroblasts","B.cells","Endothelial.cells"],"range":["#A020F0","#FF2000","#A52A2A","#0033FF","#FFA500","#006400","#FFC0CB"]},"legend":{"title":"Marker − based annotation","orient":"none","legendX":27,"legendY":8,"columns":2,"symbolOpacity":1,"symbolType":"M-1,-0.5H1V0.5H-1Z","symbolSize":256,"symbolStrokeColor":"#222","symbolStrokeWidth":1,"fillColor":"white","strokeColor":"#ddd","cornerRadius":3,"padding":4,"titleFont":"DejaVu Sans","titleFontSize":10,"titleFontWeight":"bold","titleAnchor":"middle","titleLimit":300,"labelFont":"DejaVu Sans","labelFontSize":10,"labelColor":"#222","titleColor":"black","rowPadding":0,"columnPadding":16,"labelOffset":8,"symbolOffset":2}}}},
{"data":{"values":[{"k":"Non-cancer"},{"k":"Cancer"}]},"mark":{"type":"square","opacity":0},"encoding":{"color":{"field":"k","type":"nominal","scale":{"domain":["Non-cancer","Cancer"],"range":["#90C978","#8E72A3"]},"legend":{"title":"Reannotation","orient":"none","legendX":304,"legendY":8,"symbolOpacity":1,"symbolType":"M-1,-0.5H1V0.5H-1Z","symbolSize":256,"symbolStrokeColor":"#222","symbolStrokeWidth":1,"fillColor":"white","strokeColor":"#ddd","cornerRadius":3,"padding":4,"titleFont":"DejaVu Sans","titleFontSize":10,"titleFontWeight":"bold","titleAnchor":"middle","labelFont":"DejaVu Sans","labelFontSize":10,"labelColor":"#222","titleColor":"black","rowPadding":0,"labelOffset":8,"symbolOffset":2}}}},
{"data":{"values":[{"k":"No Cov"},{"k":"Fusion"}]},"mark":{"type":"square","opacity":0},"encoding":{"color":{"field":"k","type":"nominal","scale":{"domain":["No Cov","Fusion"],"range":["#808080","#EE82EE"]},"legend":{"title":"scDNA","orient":"none","legendX":421,"legendY":8,"symbolOpacity":1,"symbolType":"M-1,-0.5H1V0.5H-1Z","symbolSize":256,"symbolStrokeColor":"#222","symbolStrokeWidth":1,"fillColor":"white","strokeColor":"#ddd","cornerRadius":3,"padding":4,"titleFont":"DejaVu Sans","titleFontSize":10,"titleFontWeight":"bold","titleAnchor":"middle","labelFont":"DejaVu Sans","labelFontSize":10,"labelColor":"#222","titleColor":"black","rowPadding":0,"labelOffset":8,"symbolOffset":2}}}},
{"data":{"values":[{"f":0},{"f":0.5},{"f":1}]},"mark":{"type":"square","opacity":0},"encoding":{"color":{"field":"f","type":"quantitative","scale":{"interpolate":"rgb","domain":[0,0.1,0.5,1],"range":["#FFFFFF","#FFEFE8","#FB5A40","#5C0010"]},"legend":{"title":"VAF","orient":"none","direction":"horizontal","legendX":541,"legendY":16,"gradientLength":49,"gradientThickness":11,"gradientOpacity":1,"gradientStrokeColor":"#999","gradientStrokeWidth":1,"values":[0,0.5,1],"format":".1f","titleFont":"DejaVu Sans","titleFontSize":8,"titleFontWeight":"normal","titleAnchor":"middle","titleColor":"#333","labelFont":"DejaVu Sans","labelFontSize":6.5,"labelColor":"#333","titlePadding":2}}}}
]},
{"width":32,"height":1,"data":{"values":[]},"mark":"rule","encoding":{}},{"width":274,"height":1,"data":{"values":[]},"mark":"rule","encoding":{}},{"width":22,"height":1,"data":{"values":[]},"mark":"rule","encoding":{}},{"width":274,"height":1,"data":{"values":[]},"mark":"rule","encoding":{}},

{"width":26,"height":169,"layer":[
{"data":{"name":"vg"},"mark":{"type":"arc","theta":0,"theta2":6.2832,"strokeWidth":0.8},"encoding":{"x":{"field":"x","type":"quantitative","scale":{"domain":[-106,-80],"nice":false,"zero":false},"axis":null},"y":{"field":"y","type":"quantitative","scale":{"domain":[70,-99],"nice":false,"zero":false},"axis":null},"radius":{"field":"n","type":"quantitative","stack":null,"scale":{"type":"sqrt","domain":[0,2664],"range":[0,69.5]}},"color":{"field":"set","type":"nominal","legend":null,"scale":{"domain":["No Cov","LR Cov","SR Cov"],"range":["#C8C8C8","#9999FF","#FF9999"]}},"fillOpacity":{"condition":{"test":"datum.set==='SR Cov'","value":0.5},"value":1},"stroke":{"field":"set","type":"nominal","legend":null,"scale":{"domain":["No Cov","LR Cov","SR Cov"],"range":["#C8C8C8","#6A6AE8","#A040A0"]}}}},
{"data":{"name":"tg"},"mark":{"type":"text","font":"DejaVu Sans","fontSize":10.5,"color":"#222"},"encoding":{"x":{"field":"x","type":"quantitative"},"y":{"field":"y","type":"quantitative"},"text":{"field":"t"}}},
{"data":{"values":[{"t":"g.","x":-98,"y":-61}]},"mark":{"type":"text","align":"left","baseline":"alphabetic","fontSize":24},"encoding":{"x":{"field":"x","type":"quantitative"},"y":{"field":"y","type":"quantitative"},"text":{"field":"t"}}}
]},
{"width":32,"height":1,"data":{"values":[]},"mark":"rule","encoding":{}},
{"width":274,"height":169,"layer":[
{"data":{"name":"vh"},"mark":{"type":"arc","theta":0,"theta2":6.2832,"strokeWidth":0.8},"encoding":{"x":{"field":"x","type":"quantitative","scale":{"domain":[-232.7,41.3],"nice":false,"zero":false},"axis":null},"y":{"field":"y","type":"quantitative","scale":{"domain":[71,-98],"nice":false,"zero":false},"axis":null},"radius":{"field":"n","type":"quantitative","stack":null,"scale":{"type":"sqrt","domain":[0,12261],"range":[0,69]}},"color":{"field":"set","type":"nominal","legend":null,"scale":{"domain":["No Cov","LR Cov","SR Cov"],"range":["#C8C8C8","#9999FF","#FF9999"]}},"fillOpacity":{"condition":{"test":"datum.set==='SR Cov'","value":0.5},"value":1},"stroke":{"field":"set","type":"nominal","legend":null,"scale":{"domain":["No Cov","LR Cov","SR Cov"],"range":["#C8C8C8","#6A6AE8","#A040A0"]}}}},
{"data":{"name":"th"},"mark":{"type":"text","font":"DejaVu Sans","fontSize":10.5,"color":"#222"},"encoding":{"x":{"field":"x","type":"quantitative"},"y":{"field":"y","type":"quantitative"},"text":{"field":"t"}}},
{"data":{"values":[{"t":"h.","x":-97.7,"y":-60}]},"mark":{"type":"text","align":"left","baseline":"alphabetic","fontSize":24},"encoding":{"x":{"field":"x","type":"quantitative"},"y":{"field":"y","type":"quantitative"},"text":{"field":"t"}}}
]},
{"width":22,"height":1,"data":{"values":[]},"mark":"rule","encoding":{}},
{"width":274,"height":169,"layer":[
{"data":{"name":"vi"},"mark":{"type":"arc","theta":0,"theta2":6.2832,"strokeWidth":0.8},"encoding":{"x":{"field":"x","type":"quantitative","scale":{"domain":[-121.3,152.7],"nice":false,"zero":false},"axis":null},"y":{"field":"y","type":"quantitative","scale":{"domain":[71,-98],"nice":false,"zero":false},"axis":null},"radius":{"field":"n","type":"quantitative","stack":null,"scale":{"type":"sqrt","domain":[0,2688],"range":[0,69.7]}},"color":{"field":"set","type":"nominal","scale":{"domain":["No Cov","LR Cov","SR Cov"],"range":["#C8C8C8","#9999FF","#FF9999"]},"legend":{"title":"MatrixCoverage","orient":"none","legendX":213,"legendY":52,"symbolOpacity":1,"symbolType":"M-1.5,-0.55H1.5V0.55H-1.5Z","symbolSize":256,"symbolStrokeColor":"transparent","fillColor":"white","strokeColor":"#ddd","cornerRadius":3,"padding":5,"titleFont":"DejaVu Sans","titleFontSize":11,"titleFontWeight":"normal","titleColor":"#222","titleAnchor":"middle","labelFont":"DejaVu Sans","labelFontSize":11,"labelColor":"#222","rowPadding":1,"labelOffset":14,"symbolOffset":8}},"fillOpacity":{"condition":{"test":"datum.set==='SR Cov'","value":0.5},"value":1},"stroke":{"field":"set","type":"nominal","legend":null,"scale":{"domain":["No Cov","LR Cov","SR Cov"],"range":["#C8C8C8","#6A6AE8","#A040A0"]}}}},
{"data":{"name":"ti"},"mark":{"type":"text","font":"DejaVu Sans","fontSize":10.5,"color":"#222"},"encoding":{"x":{"field":"x","type":"quantitative"},"y":{"field":"y","type":"quantitative"},"text":{"field":"t"}}},
{"data":{"values":[{"t":"i.","x":-99.3,"y":-60}]},"mark":{"type":"text","align":"left","baseline":"alphabetic","fontSize":24},"encoding":{"x":{"field":"x","type":"quantitative"},"y":{"field":"y","type":"quantitative"},"text":{"field":"t"}}}
]}
],
"columns":5,"spacing":0,"bounds":"flush","align":"each"}
